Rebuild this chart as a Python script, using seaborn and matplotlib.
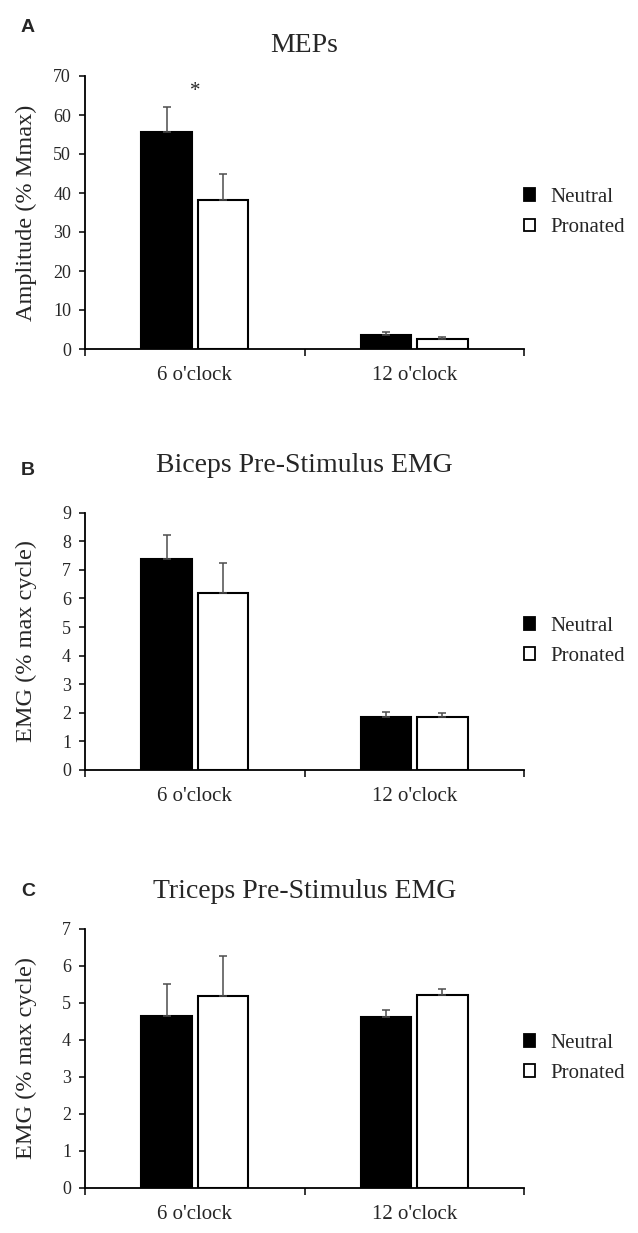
import seaborn as sns
import matplotlib.pyplot as plt
import pandas as pd
import numpy as np

# Données (moyenne et haut de la barre d'erreur)
positions = ["6 o'clock", "12 o'clock"]
postures = ['Neutral', 'Pronated']

mep_neutral = [55.6, 3.6]
mep_pronated = [38.2, 2.55]
mep_neutral_top = [62.0, 4.4]
mep_pronated_top = [45.0, 3.15]

bic_neutral = [7.37, 1.84]
bic_pronated = [6.18, 1.84]
bic_neutral_top = [8.22, 2.03]
bic_pronated_top = [7.25, 1.98]

tri_neutral = [4.65, 4.62]
tri_pronated = [5.18, 5.2]
tri_neutral_top = [5.51, 4.8]
tri_pronated_top = [6.26, 5.36]

panels = [
    dict(letter='A', title='MEPs', ylabel='Amplitude (% Mmax)', ymax=70, step=10,
         neutral=mep_neutral, pronated=mep_pronated,
         neutral_top=mep_neutral_top, pronated_top=mep_pronated_top, star=0),
    dict(letter='B', title='Biceps Pre-Stimulus EMG', ylabel='EMG (% max cycle)', ymax=9, step=1,
         neutral=bic_neutral, pronated=bic_pronated,
         neutral_top=bic_neutral_top, pronated_top=bic_pronated_top, star=None),
    dict(letter='C', title='Triceps Pre-Stimulus EMG', ylabel='EMG (% max cycle)', ymax=7, step=1,
         neutral=tri_neutral, pronated=tri_pronated,
         neutral_top=tri_neutral_top, pronated_top=tri_pronated_top, star=None),
]

sns.set_style('ticks')
plt.rcParams['font.family'] = ['Liberation Serif', 'DejaVu Serif']

W, H = 638, 1233
fig = plt.figure(figsize=(W / 100, H / 100), dpi=100)

# (haut, bas) des axes en pixels, position du titre et de la lettre
boxes = [(76, 349, 45, 28), (512.7, 770, 466, 470), (928.7, 1188, 892, 891)]
left_px, right_px = 85, 524

for p, (top_px, bot_px, title_y, letter_y) in zip(panels, boxes):
    ax = fig.add_axes([left_px / W, 1 - bot_px / H, (right_px - left_px) / W, (bot_px - top_px) / H])

    df = pd.DataFrame({
        'Position': positions * 2,
        'Posture': [postures[0]] * 2 + [postures[1]] * 2,
        'Value': p['neutral'] + p['pronated'],
    })
    sns.barplot(data=df, x='Position', y='Value', hue='Posture', order=positions, hue_order=postures,
                palette=['black', 'white'], edgecolor='black', linewidth=1.5,
                width=0.514, gap=0.1, errorbar=None, ax=ax)

    # barres d'erreur vers le haut seulement (style Excel)
    tops = [p['neutral_top'], p['pronated_top']]
    means = [p['neutral'], p['pronated']]
    for cont, top, mean in zip(ax.containers, tops, means):
        xs = [b.get_x() + b.get_width() / 2 for b in cont]
        up = np.array(top) - np.array(mean)
        ax.errorbar(xs, mean, yerr=[np.zeros(len(up)), up], fmt='none', ecolor='#4d4d4d',
                    elinewidth=1.1, capsize=3.2, capthick=1.1, zorder=1)

    if p['star'] is not None:
        i = p['star']
        ax.text(i, p['neutral_top'][i] + 2.8, '*', ha='center', va='baseline', fontsize=15)

    ax.set_xlim(-0.5, 1.5)
    ax.set_ylim(0, p['ymax'])
    ax.set_yticks(np.arange(0, p['ymax'] + 0.1, p['step']))
    ax.set_xticks([-0.5, 0.5, 1.5])
    ax.set_xticklabels([])
    ax.set_xticks([0, 1], minor=True)
    ax.set_xticklabels(positions, minor=True, fontsize=15)
    ax.tick_params(axis='x', which='major', length=5, width=1.3, direction='out')
    ax.tick_params(axis='x', which='minor', length=0, pad=12)
    ax.tick_params(axis='y', length=4, width=1.3, direction='out', labelsize=13, pad=6)
    ax.set_xlabel('')
    ax.set_ylabel(p['ylabel'], fontsize=17.5)
    ax.yaxis.set_label_coords(-0.11, 0.5)
    for s in ['top', 'right']:
        ax.spines[s].set_visible(False)
    for s in ['left', 'bottom']:
        ax.spines[s].set_linewidth(1.3)
        ax.spines[s].set_color('black')

    leg = ax.get_legend()
    handles = leg.legend_handles
    labels = [t.get_text() for t in leg.get_texts()]
    leg.remove()
    new_leg = ax.legend(handles, labels, loc='center left', bbox_to_anchor=(1.0, 0.5), frameon=False,
                        fontsize=15, handlelength=0.55, handleheight=0.55, handletextpad=0.7,
                        labelspacing=0.55, borderaxespad=0.0, borderpad=0.0)
    for h in new_leg.legend_handles:
        h.set_edgecolor('black')
        h.set_linewidth(1.3)

    fig.text((left_px + right_px) / 2 / W, 1 - title_y / H, p['title'], ha='center', va='center', fontsize=20)
    fig.text(28 / W, 1 - letter_y / H, p['letter'], ha='center', va='center', fontsize=14,
             fontweight='bold', family=['Liberation Sans', 'DejaVu Sans'])

fig.savefig('out.png', dpi=100)
